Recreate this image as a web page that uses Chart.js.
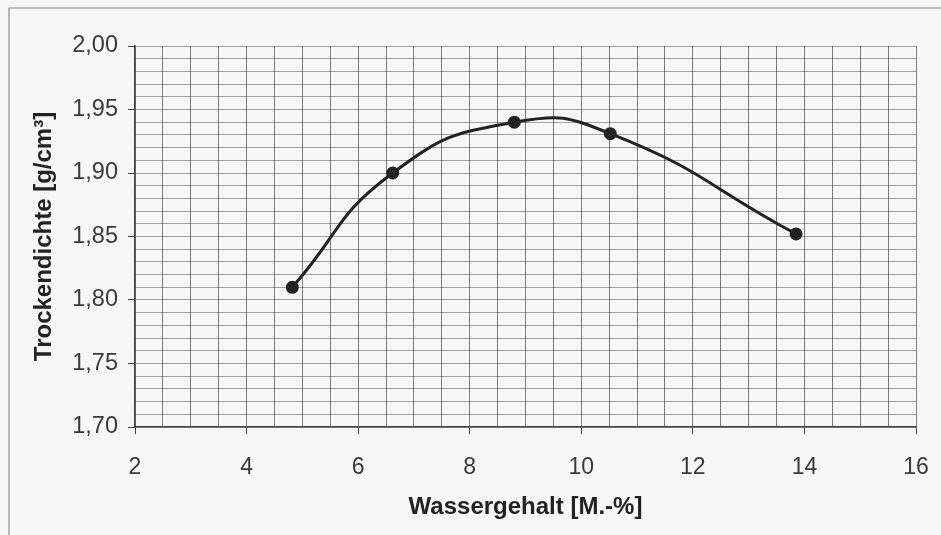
<!DOCTYPE html>
<html>
<head>
<meta charset="utf-8">
<script src="https://cdn.jsdelivr.net/npm/chart.js@4"></script>
<style>
  html, body { margin: 0; padding: 0; background: #f7f7f7; }
  #wrap { width: 941px; height: 535px; }
</style>
</head>
<body>
<div id="wrap"><canvas id="c" width="941" height="535"></canvas></div>
<script>
// ---- data ----
const wassergehalt = [4.82, 6.62, 8.8, 10.52, 13.85];       // x, M.-%
const trockendichte = [1.81, 1.90, 1.94, 1.931, 1.852];     // y, g/cm³
const xTickLabels = ['2', '4', '6', '8', '10', '12', '14', '16'];
const yTickLabels = ['1,70', '1,75', '1,80', '1,85', '1,90', '1,95', '2,00'];
const xTitle = 'Wassergehalt [M.-%]';
const yTitle = 'Trockendichte [g/cm³]';

const xMin = Number(xTickLabels[0]), xMax = Number(xTickLabels[xTickLabels.length - 1]);
const yMin = Number(yTickLabels[0].replace(',', '.')), yMax = Number(yTickLabels[yTickLabels.length - 1].replace(',', '.'));
const xMinorStep = 0.5, yMinorStep = 0.01;

const points = wassergehalt.map((x, i) => ({ x, y: trockendichte[i] }));

const isMajorX = v => xTickLabels.includes(String(Math.round(v * 100) / 100));
const fmtY = v => v.toFixed(2).replace('.', ',');
const isMajorY = v => yTickLabels.includes(fmtY(v));

const framePlugin = {
  id: 'frame',
  beforeDraw(chart) {
    const ctx = chart.ctx;
    ctx.save();
    ctx.fillStyle = '#f7f7f7';
    ctx.fillRect(0, 0, chart.width, chart.height);
    ctx.strokeStyle = '#8c8c8c';
    ctx.lineWidth = 1.2;
    ctx.beginPath();
    ctx.moveTo(9, chart.height);
    ctx.lineTo(9, 8);
    ctx.lineTo(chart.width, 8);
    ctx.stroke();
    ctx.restore();
  }
};

Chart.defaults.font.family = '"Liberation Sans", Arial, sans-serif';

new Chart(document.getElementById('c'), {
  type: 'line',
  data: {
    datasets: [{
      data: points,
      borderColor: '#222',
      backgroundColor: '#222',
      borderWidth: 3,
      pointRadius: 5,
      pointHoverRadius: 5,
      tension: 0.5,
      fill: false
    }]
  },
  options: {
    responsive: false,
    animation: false,
    devicePixelRatio: 1,
    plugins: { legend: { display: false }, tooltip: { enabled: false } },
    layout: { padding: { left: 30, top: 46, right: 25, bottom: 13 } },
    scales: {
      x: {
        type: 'linear',
        min: xMin, max: xMax,
        afterBuildTicks(scale) {
          const t = [];
          for (let i = 0; i <= Math.round((xMax - xMin) / xMinorStep); i++) t.push({ value: Math.round((xMin + i * xMinorStep) * 100) / 100 });
          scale.ticks = t;
        },
        afterFit(scale) { scale.height = 95; scale.paddingLeft = 0; scale.paddingRight = 0; },
        ticks: {
          autoSkip: false, maxRotation: 0, minRotation: 0,
          padding: 20,
          color: '#3a3a3a',
          font: { size: 23 },
          callback: v => isMajorX(v) ? String(v) : ''
        },
        grid: {
          color: 'rgba(0,0,0,0.5)',
          lineWidth: 1,
          tickLength: 7,
          tickColor: ctx => (ctx.tick && isMajorX(ctx.tick.value)) ? '#444' : 'rgba(0,0,0,0)'
        },
        border: { color: '#444', width: 1.5 },
        title: {
          display: true, text: xTitle, color: '#222',
          font: { size: 24, weight: 'bold' },
          padding: { top: 0, bottom: 0 }
        }
      },
      y: {
        type: 'linear',
        min: yMin, max: yMax,
        afterBuildTicks(scale) {
          const t = [];
          for (let i = 0; i <= Math.round((yMax - yMin) / yMinorStep); i++) t.push({ value: Math.round((yMin + i * yMinorStep) * 1000) / 1000 });
          scale.ticks = t;
        },
        afterFit(scale) { scale.width = 105; scale.paddingTop = 0; scale.paddingBottom = 0; },
        ticks: {
          autoSkip: false,
          padding: 10,
          color: '#3a3a3a',
          font: { size: 23.5 },
          callback: v => isMajorY(v) ? fmtY(v) : ''
        },
        grid: {
          color: 'rgba(0,0,0,0.35)',
          lineWidth: 1,
          tickLength: 7,
          tickColor: ctx => (ctx.tick && isMajorY(ctx.tick.value)) ? '#444' : 'rgba(0,0,0,0)'
        },
        border: { color: '#444', width: 1.5 },
        title: {
          display: true, text: yTitle, color: '#222',
          font: { size: 24, weight: 'bold' },
          padding: { top: 0, bottom: 0 }
        }
      }
    }
  },
  plugins: [framePlugin]
});
</script>
</body>
</html>
